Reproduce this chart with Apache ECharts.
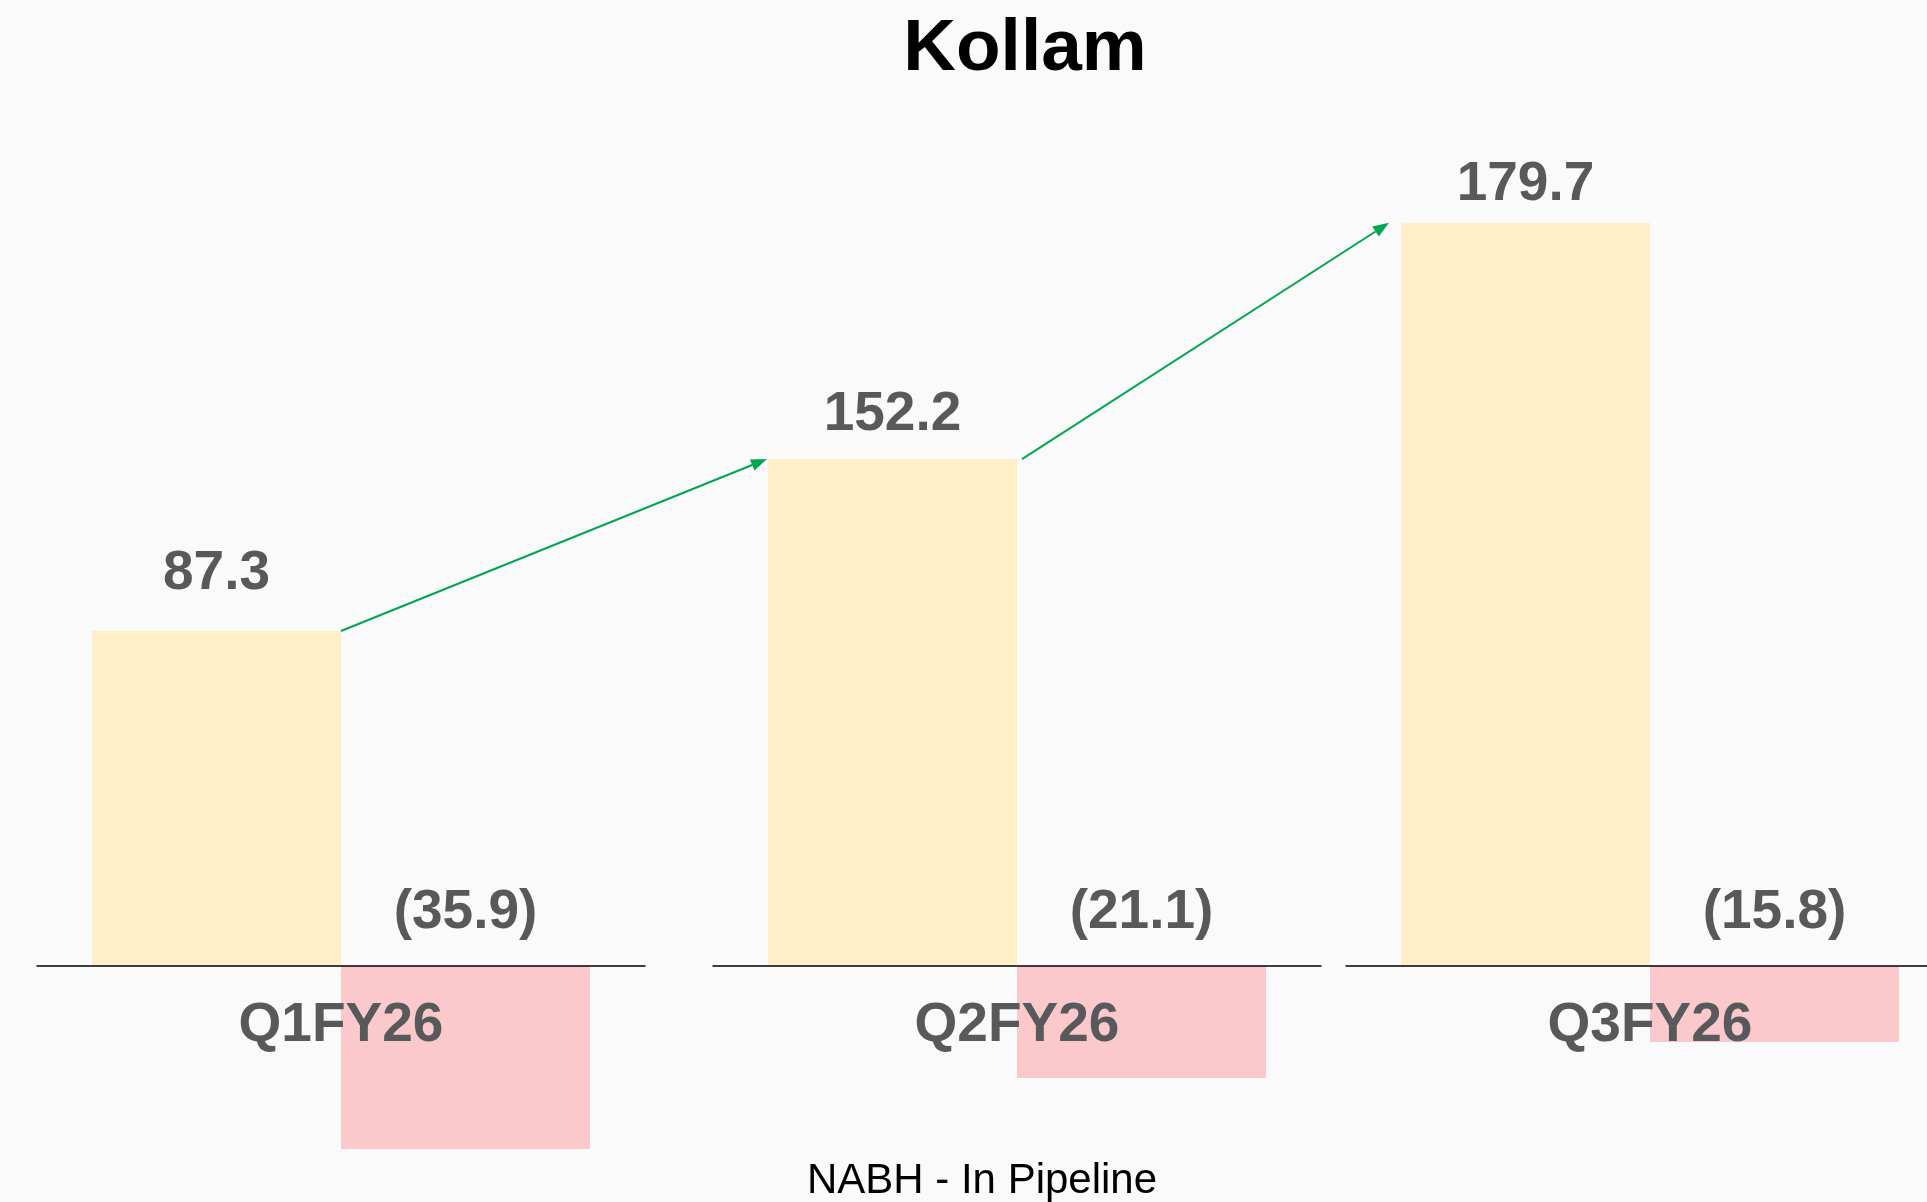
<!DOCTYPE html>
<html><head><meta charset="utf-8">
<script src="https://cdn.jsdelivr.net/npm/echarts@6/dist/echarts.min.js"></script>
<style>html,body{margin:0;padding:0;background:#fafafa}#c{width:1927px;height:1202px}</style>
</head><body><div id="c"></div>
<script>
// ---- data ----
const categories = ['Q1FY26', 'Q2FY26', 'Q3FY26'];
const positiveValues = [87.3, 152.2, 179.7];
const negativeValues = [-35.9, -21.1, -15.8];
// each panel in the source is scaled on its own (axis max per panel)
const positiveAxisMax = [225.7, 260.0, 209.4];
const negativeAxisMax = [169.9, 163.2, 180.0];
const titleText = 'Kollam';
const footnoteText = 'NABH - In Pipeline';

// ---- style ----
const FONT = '"Liberation Sans", Arial, Helvetica, sans-serif';
const LABEL_COLOR = '#58595b';
const YELLOW = '#feefc9';
const RED = '#fbc9cc';
const ARROW = '#00a651';
const BAR_W = 249;
const GRID_TOP = 100, GRID_H = 866;
const gridLefts = [37, 713, 1346];
const GRID_W = 608;
const posLabelDist = [30, 17, 10];
const negLabelDist = 26;
const arrowGapStart = [0, 5];
const arrowGapEnd = [1, 12];

const chart = echarts.init(document.getElementById('c'), null, {renderer: 'canvas'});

const grids = [], xAxes = [], yAxes = [], series = [];
categories.forEach((cat, i) => {
  grids.push({left: gridLefts[i], width: GRID_W, top: GRID_TOP, height: GRID_H,
    containLabel: false, outerBoundsMode: 'none'});
  xAxes.push({
    type: 'category', gridIndex: i, data: [cat], z: 10, position: 'bottom',
    axisLine: {show: true, onZero: false, lineStyle: {color: '#000', width: 1.5}},
    axisTick: {show: false},
    axisLabel: {margin: 32, fontSize: 55, fontWeight: 'bold', color: LABEL_COLOR, fontFamily: FONT},
    splitLine: {show: false}
  });
  yAxes.push({type: 'value', gridIndex: i, show: false, splitLine: {show: false},
    min: 0, max: positiveAxisMax[i]});
  yAxes.push({type: 'value', gridIndex: i, show: false, splitLine: {show: false},
    min: 0, max: negativeAxisMax[i]});
  const lbl = {show: true, position: 'top', fontSize: 55, fontWeight: 'bold', color: LABEL_COLOR, fontFamily: FONT};
  series.push({
    type: 'bar', xAxisIndex: i, yAxisIndex: 2 * i, barWidth: BAR_W, barGap: '0%', clip: false,
    itemStyle: {color: YELLOW}, silent: true,
    label: Object.assign({}, lbl, {distance: posLabelDist[i], formatter: p => p.value.toFixed(1)}),
    data: [positiveValues[i]]
  });
  series.push({
    type: 'bar', xAxisIndex: i, yAxisIndex: 2 * i + 1, barWidth: BAR_W, barGap: '0%', clip: false,
    itemStyle: {color: RED}, silent: true,
    label: Object.assign({}, lbl, {distance: negLabelDist, formatter: p => '(' + Math.abs(p.value).toFixed(1) + ')'}),
    data: [negativeValues[i]]
  });
});

chart.setOption({
  backgroundColor: '#fafafa',
  animation: false,
  title: [
    {text: titleText, left: 1020, top: 8, textAlign: 'center',
     textStyle: {fontSize: 73, fontWeight: 'bold', color: '#000', fontFamily: FONT}},
    {text: footnoteText, left: 977, top: 1155, textAlign: 'center',
     textStyle: {fontSize: 42, fontWeight: 'normal', color: '#000', fontFamily: FONT}}
  ],
  grid: grids, xAxis: xAxes, yAxis: yAxes, series: series
});

// arrows between the tops of consecutive positive bars
const graphics = [];
for (let i = 0; i < categories.length - 1; i++) {
  const p0 = chart.convertToPixel({xAxisIndex: i, yAxisIndex: 2 * i}, [0, positiveValues[i]]);
  const p1 = chart.convertToPixel({xAxisIndex: i + 1, yAxisIndex: 2 * (i + 1)}, [0, positiveValues[i + 1]]);
  const x0 = p0[0] + arrowGapStart[i], y0 = p0[1];
  const x1 = p1[0] - BAR_W - arrowGapEnd[i], y1 = p1[1];
  const dx = x1 - x0, dy = y1 - y0, len = Math.hypot(dx, dy);
  const ux = dx / len, uy = dy / len;
  const headL = 16, headW = 6;
  const bx = x1 - ux * headL, by = y1 - uy * headL;
  graphics.push({type: 'line', silent: true, z: 20,
    shape: {x1: x0, y1: y0, x2: bx, y2: by}, style: {stroke: ARROW, lineWidth: 2}});
  graphics.push({type: 'polygon', silent: true, z: 20,
    shape: {points: [[x1, y1], [bx - uy * headW, by + ux * headW], [bx + uy * headW, by - ux * headW]]},
    style: {fill: ARROW}});
}
chart.setOption({graphic: graphics});
</script>
</body></html>
